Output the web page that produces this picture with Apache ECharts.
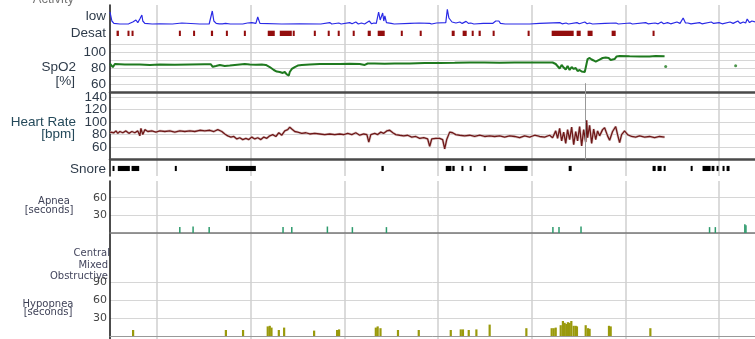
<!DOCTYPE html>
<html>
<head>
<meta charset="utf-8">
<script src="https://cdn.jsdelivr.net/npm/echarts@6.0.0/dist/echarts.min.js"></script>
<style>
  html, body { margin: 0; padding: 0; background: #fff; }
  #chart { width: 755px; height: 339px; }
</style>
</head>
<body>
<div id="chart"></div>
<script>
// time axis in minutes, 0 = first hour line
var T_MIN = -30, T_MAX = 383;

// activity trace [minute, level]
var activity = [
  [-30,65],[-29.4,70],[-28.8,20],[-27.5,8],[-23.7,5],[-18,6],[-15.4,15],[-13.4,25],[-12.2,12],[-10.9,30],[-9.6,50],[-9,20],[-7.7,8],[-3,5],
  [1.9,6],[10,5],[16,10],[17,5],[27.5,5],[33.5,5],[34.6,10],[35.5,70],[36.5,20],[38,8],[39,12],[40,6],[41,15],[42,6],[44,8],[47,5],
  [55,5],[58,10],[59,5],[60.8,12],[62,5],[63.4,8],[64.6,40],[66,8],[67,5],[80,5],[91.5,6],[105,5],[110.7,12],[112,5],[116.5,10],[118,5],
  [123.5,12],[125,6],[127.4,15],[129,5],[131,10],[133,5],[136,20],[137.5,6],[139,10],[140.5,8],[142,65],[143,25],[143.4,30],[144,18],
  [144.6,60],[145.3,20],[146,45],[147,12],[148,15],[150,8],[152,5],[162,8],[163,5],[168,10],[169,5],[174.7,8],[176,5],[179,10],[180,5],
  [185,12],[186,78],[187,35],[187.5,30],[189,15],[190,20],[191.5,10],[194,15],[195.5,8],[198,18],[199.5,8],[201,10],[203,5],[209,8],
  [210,5],[215,8],[217,20],[218,10],[219,20],[220,8],[221,8],[223,5],[238.7,5],[245,8],[246,5],[258,12],[259.5,6],[262,10],[263.5,5],
  [269,12],[270.5,6],[274,15],[275.5,6],[277,10],[279,5],[287,8],[288,5],[294,10],[295.5,5],[303,10],[304.5,5],[313,12],[314.5,6],
  [319,10],[321,6],[323,15],[324.5,6],[327,12],[329,6],[333,15],[335,8],[337,35],[338.5,10],[340,10],[342,6],[347.5,12],[349,6],
  [355,15],[356.5,8],[360,12],[362,6],[367,15],[369,8],[372,20],[373.5,8],[375.5,15],[377,10],[378,30],[379.5,12],[381,20],[383,15]
];

// desaturation events [start, end]
var desat = [
  [-25.8,-24.3],[-18.8,-17.9],[-16.2,-15.2],[14.1,14.9],[23.2,24.3],[34.6,36],[44.2,45.4],[55.7,57],[71,75.5],[78.7,86.4],[87,87.7],
  [100.5,101.8],[109.4,110.7],[115.8,117.1],[125.4,126.7],[135,137],[141.4,145.9],[156.2,156.8],[168.3,169.6],[188.8,190.7],
  [195.8,198.4],[201.6,202.2],[206,207.4],[215,216.3],[237.4,238.7],[252.8,266.9],[268.8,271.4],[275.8,279],[291.2,293.8],[317.4,318.7]
];

// SpO2 [minute, %]
var spo2 = [
  [-30,85.6],[-28.8,87.5],[-28.2,81],[-26.9,85],[-20.5,84.4],[-10.9,84.4],[-4.5,83.8],[1.9,84.4],[11.5,84],[21.1,84.4],[30.7,84.6],
  [34.6,84.6],[35.8,81.5],[37.8,82.5],[40.3,83.8],[43.5,82.5],[46.7,83],[49.9,83.8],[53.1,84.4],[56.3,85],[59.5,84.4],[63.4,84],
  [67.2,84.4],[69.8,83.8],[72.3,81.2],[74.9,77.5],[76.8,75.6],[78.7,75],[80.6,73.8],[81.9,75],[83.2,71.9],[84.5,70.6],[85.1,75],
  [86.4,78.8],[88.3,81.2],[90.2,83],[92.8,83.8],[97.9,84.4],[104.3,85],[110.7,85],[117.1,85],[123.5,85.2],[129.9,85],[133.1,83.8],
  [135,85.6],[139.5,85.6],[145.9,85.2],[152.3,85.6],[161.9,85.6],[171.5,86.2],[181.1,86.2],[190.7,86.5],[200.3,86.9],[209.9,86.9],
  [219.5,86.6],[229.1,86.9],[238.7,86.9],[248.3,86.9],[253.4,86.9],[255.4,85],[256.6,82.5],[257.9,79.4],[259.2,83.8],[260.5,80.6],
  [261.8,78.1],[263,82.5],[264.3,77.5],[265.6,81.2],[266.9,78.8],[268.2,80],[269.4,76.2],[270.7,77.5],[272,75.6],[274,75],[275.2,77.5],
  [275.8,91.2],[277.1,92.5],[278.4,90.6],[279.7,89.4],[281,88.1],[282.2,88.8],[283.5,90.6],[285.4,92.5],[287.4,93.1],[289.3,92.5],
  [290.6,90],[291.8,88.1],[293.1,91.2],[294.4,94.4],[296.3,95],[302.7,94.6],[309.1,94.4],[315.5,94.4],[319.4,95],[325.1,94.6]
];
var spo2Dots = [[325.8,81.9],[370.6,82.8]];

// heart rate [minute, bpm]
var heartRate = [
  [-30,84],[-28.8,87],[-27.5,83],[-26.2,86],[-25,82],[-23.7,85],[-21.8,83],[-19.8,86],[-17.9,82],[-16,85],[-14.1,83],[-12.2,86],
  [-10.9,78],[-10.2,90],[-9,80],[-7.7,88],[-5.8,85],[-3.2,86],[-0.6,84],[1.9,86],[5.1,85],[8.3,86],[11.5,84],[14.7,86],[17.9,85],
  [21.1,86],[24.3,85],[27.5,87],[30.7,86],[33.9,87],[36.5,85],[39,88],[41.6,85],[43.5,81],[45.4,78],[47.4,76],[49.3,77],[51.2,73],
  [53.1,75],[55,72],[57,74],[58.9,72],[60.8,76],[62.7,73],[64.6,75],[66.6,72],[68.5,76],[70.4,74],[72.3,78],[74.2,80],[76.2,77],
  [78.1,83],[80,79],[81.9,86],[83.8,88],[85.1,92],[86.4,89],[88.3,85],[90.2,84],[92.8,82],[95.4,83],[97.9,81],[101.1,82],[104.3,81],
  [107.5,80],[110.7,81],[113.9,80],[117.1,81],[119.7,80],[122.2,82],[124.8,80],[127.4,83],[129.9,79],[132.5,81],[134.5,80],[135.7,68],
  [137,80],[139.5,82],[141.4,80],[143.4,84],[145.3,82],[147.2,86],[149.1,87],[151.1,83],[153,80],[155.5,79],[158.1,78],[160.6,79],
  [163.2,76],[165.8,77],[168.3,74],[170.9,75],[173.4,73],[174.7,61],[176,73],[178.6,74],[181.1,74],[183,72],[184.3,57],[185.6,72],
  [187.5,84],[189.4,83],[191.4,80],[193.9,79],[197.1,78],[200.3,79],[203.5,77],[206.7,79],[209.9,77],[213.1,78],[216.3,77],[219.5,78],
  [222.7,76],[225.9,78],[229.1,77],[232.3,75],[235.5,78],[238.7,76],[241.9,79],[245.1,77],[248.3,76],[251.5,79],[253.4,75],[255.4,86],
  [256.6,74],[257.9,90],[259.2,70],[260.5,84],[261.8,66],[263,88],[264.3,72],[265.6,92],[266.9,64],[268.2,85],[269.4,70],[270.7,93],
  [272,62],[273.3,88],[274.6,68],[275.2,103],[275.8,75],[277.1,95],[278.4,66],[279.7,89],[281,72],[282.2,86],[283.5,78],[285.4,88],
  [286.7,91],[288.6,78],[289.9,71],[291.8,85],[293.8,93],[295,80],[296.3,67],[297.6,80],[299.5,86],[301.4,80],[304,77],[306.6,76],
  [309.1,78],[312.3,76],[315.5,77],[318.7,75],[321.9,77],[325.1,76]
];

// snore episodes [start, end]
var snore = [
  [-28.4,-27.5],[-25,-17.3],[-16.2,-11.3],[11.5,12.2],[44.2,44.8],[46,63.4],[143.8,145.3],[185,188.6],[189.2,190.7],[195,196],
  [200.3,201],[209.3,210.4],[222.7,237.4],[263.7,265.6],[317.4,319.4],[320.6,323.2],[324.5,325.8],[341.8,343],[349.4,354.6],
  [355.2,357],[358.4,359],[362.2,363.5],[364.8,366.7]
];

// apnea events [minute, seconds]
var apnea = [
  [14.7,10],[23.2,11],[33.5,10],[80.8,10],[86.4,10],[109.2,11],[125.2,10],[147,10],[253.6,10],[257.5,10],[271.6,11],
  [353.9,10],[357.6,10],[376.5,15],[377.2,13]
];

// hypopnea events [minute, seconds]
var hypopnea = [
  [-15.2,10],[44.2,10],[55.2,10],[71,16],[72.3,17],[73.4,14],[78.1,10],[81.5,14],[100.7,9],[115.4,10],[116.7,11],[140.2,14],
  [141.4,16],[143.2,13],[154.4,10],[167.7,10],[188.2,10],[194.6,11],[196,11],[199.7,10],[204.6,11],[213.1,19],[236.6,13],
  [252.8,13],[254.1,13],[255.4,14],[258.6,18],[260,25],[261.1,22],[262.2,20],[263.2,23],[264.3,22],[265.4,25],[266.9,17],
  [268.2,17],[269,16],[274.6,18],[276.1,13],[277.1,12],[289.5,17],[290.6,16],[316,13]
];

var markerTime = 274.6;

var labelColor = '#2e3b4a';
var topFont = 'Liberation Sans, Arial, sans-serif';
var smallFont = 'DejaVu Sans, Verdana, sans-serif';

function xAx(i, extra) {
  return Object.assign({
    type: 'value', gridIndex: i, min: T_MIN, max: T_MAX, show: false,
    axisLine: { show: false, onZero: false }, axisTick: { show: false }, axisLabel: { show: false },
    splitLine: { show: false }
  }, extra || {});
}
function yAx(i, min, max, extra) {
  return Object.assign({
    type: 'value', gridIndex: i, min: min, max: max, show: false,
    axisLine: { show: false, onZero: false }, axisTick: { show: false }, axisLabel: { show: false },
    splitLine: { show: false }
  }, extra || {});
}
function showOnly(list) {
  return function (v) { return list.indexOf(v) >= 0 ? String(v) : ''; };
}

function spanRender(y0, y1, color) {
  return function (params, api) {
    var a = api.coord([api.value(0), y1]);
    var b = api.coord([api.value(1), y0]);
    return {
      type: 'rect',
      shape: { x: a[0], y: a[1], width: Math.max(b[0] - a[0], 2), height: b[1] - a[1] },
      style: { fill: color }
    };
  };
}
function stickRender(w, color) {
  return function (params, api) {
    var top = api.coord([api.value(0), api.value(1)]);
    var base = api.coord([api.value(0), 0]);
    return {
      type: 'rect',
      shape: { x: top[0] - w / 2, y: top[1], width: w, height: base[1] - top[1] },
      style: { fill: color }
    };
  };
}

var gridLine = { show: true, lineStyle: { color: '#d6d6d6', width: 1 } };

function txt(text, x, y, align, font, color) {
  return {
    type: 'text', x: x, y: y, silent: true,
    style: { text: text, font: font, fill: color || labelColor,
      align: align, textAlign: align, verticalAlign: 'middle', textVerticalAlign: 'middle' }
  };
}

var chart = echarts.init(document.getElementById('chart'), null, { renderer: 'canvas' });

var option = {
  animation: false,
  backgroundColor: '#fff',
  grid: [
    { left: 110, right: 0, top: 5, height: 171, outerBoundsMode: 'none' },   // frame top
    { left: 110, right: 0, top: 181, height: 170, outerBoundsMode: 'none' }, // frame bottom
    { left: 110, right: 0, top: 5, height: 20, outerBoundsMode: 'none' },    // activity
    { left: 110, right: 0, top: 25, height: 19, outerBoundsMode: 'none' },   // desat
    { left: 110, right: 0, top: 44, height: 48, outerBoundsMode: 'none' },   // spo2
    { left: 110, right: 0, top: 92, height: 67.5, outerBoundsMode: 'none' }, // heart rate
    { left: 110, right: 0, top: 160, height: 16, outerBoundsMode: 'none' },  // snore
    { left: 110, right: 0, top: 180, height: 53, outerBoundsMode: 'none' },  // apnea
    { left: 110, right: 0, top: 282, height: 54, outerBoundsMode: 'none' }   // hypopnea
  ],
  xAxis: [
    xAx(0, { show: true, minInterval: 60, maxInterval: 60,
      splitLine: { show: true, showMinLine: false, showMaxLine: false, lineStyle: { color: '#cfcfcf', width: 1.5 } } }),
    xAx(1, { show: true, minInterval: 60, maxInterval: 60,
      splitLine: { show: true, showMinLine: false, showMaxLine: false, lineStyle: { color: '#cfcfcf', width: 1.5 } } }),
    xAx(2),
    xAx(3),
    xAx(4, { show: true, axisLine: { show: true, onZero: false, lineStyle: { color: '#4a4a4a', width: 2.5 } } }),
    xAx(5, { show: true, axisLine: { show: true, onZero: false, lineStyle: { color: '#4a4a4a', width: 2.5 } } }),
    xAx(6),
    xAx(7, { show: true, axisLine: { show: true, onZero: false, lineStyle: { color: '#777', width: 1.5 } } }),
    xAx(8, { show: true, axisLine: { show: true, onZero: false, lineStyle: { color: '#999', width: 1 } } })
  ],
  yAxis: [
    yAx(0, 0, 1, { show: true, axisLine: { show: true, onZero: false, lineStyle: { color: '#111', width: 1.5 } } }),
    yAx(1, 0, 1, { show: true, axisLine: { show: true, onZero: false, lineStyle: { color: '#111', width: 1.5 } } }),
    yAx(2, 0, 100),
    yAx(3, 0, 1),
    yAx(4, 50, 110, { show: true, interval: 10,
      axisLabel: { show: true, margin: 4, fontSize: 13.5, fontFamily: topFont, color: labelColor, formatter: showOnly([100, 80, 60]) },
      splitLine: gridLine }),
    yAx(5, 40, 148.5, { show: true, interval: 20,
      axisLabel: { show: true, margin: 3, fontSize: 13.5, fontFamily: topFont, color: labelColor, formatter: showOnly([140, 120, 100, 80, 60]) },
      splitLine: gridLine }),
    yAx(6, 0, 1),
    yAx(7, 0, 90, { show: true, interval: 30,
      axisLabel: { show: true, margin: 3, fontSize: 11, fontFamily: smallFont, color: '#444', formatter: showOnly([60, 30]) },
      splitLine: { show: true, showMaxLine: false, lineStyle: { color: '#d6d6d6', width: 1 } } }),
    yAx(8, 0, 90, { show: true, interval: 30,
      axisLabel: { show: true, margin: 3, fontSize: 11, fontFamily: smallFont, color: '#444', formatter: showOnly([90, 60, 30]) },
      splitLine: gridLine })
  ],
  graphic: [
    txt('Activity', 74, -1, 'right', '13px ' + topFont, '#777'),
    txt('low', 106, 16, 'right', '13.5px ' + topFont),
    txt('Desat', 106, 33, 'right', '13.5px ' + topFont),
    txt('SpO2', 76, 67, 'right', '13.5px ' + topFont),
    txt('[%]', 75, 81, 'right', '13.5px ' + topFont),
    txt('Heart Rate', 76, 122, 'right', '13.5px ' + topFont, '#24495a'),
    txt('[bpm]', 75, 134, 'right', '13.5px ' + topFont, '#24495a'),
    txt('Snore', 106, 169, 'right', '13.5px ' + topFont),
    txt('Apnea', 54, 201, 'center', '10px ' + smallFont, '#3c3f55'),
    txt('[seconds]', 49, 210, 'center', '10px ' + smallFont, '#3c3f55'),
    txt('Central', 110, 253, 'right', '10px ' + smallFont, '#44465e'),
    txt('Mixed', 108, 265, 'right', '10px ' + smallFont, '#44465e'),
    txt('Obstructive', 108, 276, 'right', '10px ' + smallFont, '#44465e'),
    txt('Hypopnea', 48, 304, 'center', '10px ' + smallFont, '#3c3f55'),
    txt('[seconds]', 48, 312, 'center', '10px ' + smallFont, '#3c3f55')
  ],
  series: [
    {
      name: 'Activity', type: 'line', xAxisIndex: 2, yAxisIndex: 2, data: activity,
      showSymbol: false, symbol: 'none', lineStyle: { color: '#2a2ae6', width: 1.2 }, z: 3
    },
    {
      name: 'Desat', type: 'custom', xAxisIndex: 3, yAxisIndex: 3, data: desat,
      encode: { x: [0, 1] }, renderItem: spanRender(0.42, 0.7, '#930d0d')
    },
    {
      name: 'SpO2', type: 'line', xAxisIndex: 4, yAxisIndex: 4, data: spo2,
      showSymbol: false, symbol: 'none', lineStyle: { color: '#1f7a1f', width: 2 }, z: 3,
      markLine: {
        silent: true, symbol: 'none', label: { show: false },
        lineStyle: { color: '#999', width: 1, type: 'solid' },
        data: [[{ coord: [markerTime, 50] }, { coord: [markerTime, 61] }]]
      }
    },
    {
      name: 'SpO2 points', type: 'scatter', xAxisIndex: 4, yAxisIndex: 4, data: spo2Dots,
      symbolSize: 3, itemStyle: { color: '#1f7a1f' }
    },
    {
      name: 'Heart Rate halo', type: 'line', xAxisIndex: 5, yAxisIndex: 5, data: heartRate,
      showSymbol: false, symbol: 'none', lineStyle: { color: '#dcc6c6', width: 2.6 }, z: 2,
      markLine: {
        silent: true, symbol: 'none', label: { show: false },
        lineStyle: { color: '#999', width: 1, type: 'solid' },
        data: [{ xAxis: markerTime }]
      }
    },
    {
      name: 'Heart Rate', type: 'line', xAxisIndex: 5, yAxisIndex: 5, data: heartRate,
      showSymbol: false, symbol: 'none', lineStyle: { color: '#6e1818', width: 1.3 }, z: 3
    },
    {
      name: 'Snore', type: 'custom', xAxisIndex: 6, yAxisIndex: 6, data: snore,
      encode: { x: [0, 1] }, renderItem: spanRender(0.31, 0.63, '#000')
    },
    {
      name: 'Apnea', type: 'custom', xAxisIndex: 7, yAxisIndex: 7, data: apnea,
      encode: { x: 0, y: 1 }, renderItem: stickRender(1.5, '#2d9a6c')
    },
    {
      name: 'Hypopnea', type: 'custom', xAxisIndex: 8, yAxisIndex: 8, data: hypopnea,
      encode: { x: 0, y: 1 }, renderItem: stickRender(2.2, '#9a9a0c')
    }
  ]
};

chart.setOption(option);
</script>
</body>
</html>
